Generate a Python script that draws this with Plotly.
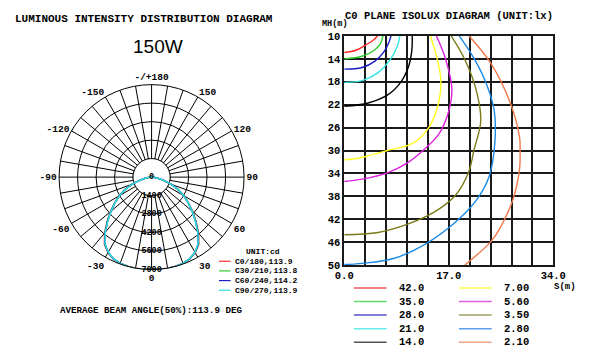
import plotly.graph_objects as go
import numpy as np

MONO = "Liberation Mono, Courier New, monospace"
SANS = "Liberation Sans, Arial, sans-serif"

# ---------------- polar (luminous intensity) data ----------------
polar_angles = [0, 5, 10, 15, 20, 25, 30, 35, 40, 45, 50, 55, 60, 65, 70, 75, 80, 85, 90]
c0_180 = [6980, 7000, 7010, 6990, 6950, 6840, 6600, 6220, 5540, 4760, 4060, 3420, 2830, 2220, 1570, 960, 490, 160, 0]
c30_210 = [6990, 7010, 7015, 6995, 6950, 6830, 6580, 6190, 5500, 4720, 4030, 3400, 2815, 2210, 1560, 955, 485, 160, 0]
c60_240 = [7000, 7015, 7020, 7000, 6950, 6825, 6570, 6170, 5470, 4700, 4010, 3390, 2805, 2205, 1555, 950, 480, 160, 0]
c90_270 = [7000, 7020, 7020, 7000, 6950, 6820, 6560, 6150, 5450, 4680, 4000, 3380, 2800, 2200, 1550, 950, 480, 160, 0]
polar_series = [c0_180, c30_210, c60_240, c90_270]
polar_names = ["C0/180,113.9", "C30/210,113.8", "C60/240,114.2", "C90/270,113.9"]
polar_colors = ["#ff2a2a", "#2ecc2e", "#1c1cc4", "#2ee0e0"]

ring_values = [1400, 2800, 4200, 5600, 7000]
ring_labels = ["0", "1400", "2800", "4200", "5600", "7000"]
ring_label_r = [0, 1400, 2800, 4200, 5600, 7000]
inner_ring = 1400
angle_tick_vals = list(range(0, 360, 10))
angle_tick_text = []
for v in angle_tick_vals:
    if v % 30:
        angle_tick_text.append("")
    elif v == 180:
        angle_tick_text.append("-/+180")
    elif v > 180:
        angle_tick_text.append(str(v - 360))
    else:
        angle_tick_text.append(str(v))

# ---------------- isolux data ----------------
iso_levels = ["42.0", "35.0", "28.0", "21.0", "14.0", "7.00", "5.60", "3.50", "2.80", "2.10"]
iso_colors = ["#ff2a2a", "#2ecc2e", "#1c1cc4", "#33e6e6", "#000000",
              "#ffff22", "#dd22dd", "#7a7a18", "#1a8ae6", "#f07a4a"]
iso_legend_colors = ["#f05a5a", "#66d966", "#5555cc", "#66eeee", "#555555",
                     "#ffff55", "#dd5fdd", "#a0a060", "#5aa0ee", "#f0a585"]
iso_s_42 = [0.0, 1.9, 3.45, 4.75, 5.4]
iso_h_42 = [12.9, 12.5, 11.6, 10.7, 10.0]
iso_s_35 = [0.0, 2.9, 5.0, 5.9, 6.3]
iso_h_35 = [14.0, 13.55, 12.4, 11.3, 10.0]
iso_s_28 = [0.0, 2.9, 5.0, 6.5, 7.3, 7.6]
iso_h_28 = [15.8, 15.5, 14.4, 12.7, 11.0, 10.0]
iso_s_21 = [0.0, 2.9, 5.5, 7.3, 8.6, 9.05]
iso_h_21 = [18.1, 17.8, 16.4, 14.4, 11.9, 10.0]
iso_s_14 = [0.0, 3.9, 7.05, 9.2, 10.5, 11.0, 11.05]
iso_h_14 = [22.3, 21.7, 20.3, 18.05, 15.2, 12.4, 10.0]
iso_s_7 = [14.0, 15.0, 15.7, 15.4, 13.8, 11.2, 7.0, 4.3, 2.0, 0.0]
iso_h_7 = [10.0, 13.5, 17.5, 21.4, 25.9, 28.7, 30.0, 30.8, 31.4, 31.6]
iso_s_56 = [15.0, 16.5, 17.5, 17.0, 15.4, 12.9, 10.2, 7.1, 2.9, 0.0]
iso_h_56 = [10.0, 14.1, 19.2, 23.1, 27.1, 29.9, 32.2, 33.85, 35.0, 35.4]
iso_s_35b = [17.4, 19.6, 21.4, 22.2, 21.1, 20.2, 18.1, 14.4, 10.2, 5.5, 0.0]
iso_h_35b = [10.0, 14.1, 19.2, 24.8, 29.9, 33.85, 37.8, 40.9, 42.9, 44.3, 44.7]
iso_s_28b = [18.7, 21.2, 23.2, 24.4, 24.5, 23.6, 21.7, 18.6, 13.4, 8.15, 2.9, 0.0]
iso_h_28b = [10.0, 14.1, 18.6, 23.1, 28.5, 34.4, 38.35, 42.0, 46.2, 48.8, 49.7, 49.9]
iso_s_21b = [20.3, 23.8, 26.9, 28.5, 28.6, 28.5, 27.5, 25.4, 23.8, 19.6]
iso_h_21b = [10.0, 14.7, 21.4, 27.6, 29.9, 33.3, 38.35, 43.4, 45.95, 50.0]
iso_s = [iso_s_42, iso_s_35, iso_s_28, iso_s_21, iso_s_14, iso_s_7, iso_s_56, iso_s_35b, iso_s_28b, iso_s_21b]
iso_h = [iso_h_42, iso_h_35, iso_h_28, iso_h_21, iso_h_14, iso_h_7, iso_h_56, iso_h_35b, iso_h_28b, iso_h_21b]

s_grid = [round(3.4 * i, 1) for i in range(11)]
s_tick_text = ["0.0" if v == 0 else "17.0" if v == 17.0 else "34.0" if v == 34.0 else "" for v in s_grid]
h_grid = list(range(10, 51, 4))
h_tick_text = [str(v) for v in h_grid]

W, H = 601, 363
fig = go.Figure()

# white inner disc covering the spokes
disc_theta = np.linspace(0, 360, 181)
fig.add_trace(go.Scatterpolar(r=[inner_ring] * len(disc_theta), theta=disc_theta, mode="lines",
                              fill="toself", fillcolor="white", line=dict(color="black", width=1),
                              hoverinfo="skip", showlegend=False))
for vals, name, col in zip(polar_series, polar_names, polar_colors):
    theta = [-a for a in reversed(polar_angles)] + polar_angles[1:]
    r = list(reversed(vals)) + vals[1:]
    fig.add_trace(go.Scatterpolar(r=r, theta=theta, mode="lines", name=name, cliponaxis=False,
                                  line=dict(color=col, width=1.5), showlegend=False))
fig.add_trace(go.Scatterpolar(r=ring_label_r, theta=[0] * len(ring_label_r), mode="text",
                              text=ring_labels, textposition="middle center", cliponaxis=False,
                              textfont=dict(family=MONO, size=8.5, color="black", weight="bold"),
                              showlegend=False, hoverinfo="skip"))

for s, h, lvl, col in zip(iso_s, iso_h, iso_levels, iso_colors):
    fig.add_trace(go.Scatter(x=s, y=h, mode="lines", name=lvl,
                             line=dict(color=col, width=1.4, shape="spline", smoothing=1.0),
                             showlegend=False, xaxis="x", yaxis="y"))

cx, cy, R = 148, 178, 96
fig.update_layout(
    width=W, height=H, margin=dict(l=0, r=0, t=0, b=0, pad=0),
    paper_bgcolor="white", plot_bgcolor="white", showlegend=False,
    polar=dict(
        domain=dict(x=[(cx - R) / W, (cx + R) / W], y=[(H - cy - R) / H, (H - cy + R) / H]),
        bgcolor="white",
        angularaxis=dict(rotation=-90, direction="counterclockwise", tickmode="array",
                         tickvals=angle_tick_vals, ticktext=angle_tick_text, ticks="",
                         showgrid=True, gridcolor="black", gridwidth=1,
                         showline=True, linecolor="black", linewidth=1,
                         tickfont=dict(family=MONO, size=9.5, color="black", weight="bold")),
        radialaxis=dict(range=[0, 7000], tickmode="array", tickvals=ring_values,
                        showticklabels=False, ticks="", showline=False,
                        gridcolor="black", gridwidth=1),
    ),
    xaxis=dict(domain=[348 / W, 565 / W], range=[0, 34], tickmode="array", tickvals=s_grid,
               ticktext=s_tick_text, showgrid=True, gridcolor="#1a1a1a", gridwidth=1.5,
               zeroline=False, showline=True, mirror=True, linecolor="#1a1a1a", linewidth=1.5,
               ticks="", tickfont=dict(family=MONO, size=10.5, color="black", weight="bold"),
               anchor="y"),
    yaxis=dict(domain=[(H - 269) / H, (H - 32) / H], range=[50, 10], tickmode="array",
               tickvals=h_grid, ticktext=h_tick_text, showgrid=True, gridcolor="#1a1a1a",
               gridwidth=1.5, zeroline=False, showline=True, mirror=True,
               linecolor="#1a1a1a", linewidth=1.5, ticks="",
               tickfont=dict(family=MONO, size=10.5, color="black", weight="bold"),
               anchor="x"),
)

ann = []
shapes = []

def txt(x, y, t, size, family=MONO, bold=True, xanchor="center"):
    ann.append(dict(x=x / W, y=1 - y / H, xref="paper", yref="paper", text=t, showarrow=False,
                    xanchor=xanchor, yanchor="middle",
                    font=dict(family=family, size=size, color="black",
                              weight="bold" if bold else "normal")))

txt(140, 14, "LUMINOUS INTENSITY DISTRIBUTION DIAGRAM", 11)
txt(155, 43, "150W", 19, family=SANS, bold=False)
txt(147.5, 316, "AVERAGE BEAM ANGLE(50%):113.9 DEG", 9.2)
txt(263.5, 255, "UNIT:cd", 8)
for i, (name, col) in enumerate(zip(polar_names, polar_colors)):
    y = 265 + 10 * i
    shapes.append(dict(type="line", xref="paper", yref="paper", x0=218 / W, x1=230 / W,
                       y0=1 - y / H, y1=1 - y / H, line=dict(color=col, width=1.2)))
    txt(232, y, name, 8, xanchor="left")

txt(457, 11.5, "C0 PLANE ISOLUX DIAGRAM (UNIT:lx)", 10.5)
txt(338, 19.5, "MH(m)", 8.5)
txt(577, 291.5, "S(m)", 9)
for i, (lvl, col) in enumerate(zip(iso_levels, iso_legend_colors)):
    col_i, row = divmod(i, 5)
    y = 292.7 + 14 * row
    x0 = 358 if col_i == 0 else 467
    shapes.append(dict(type="line", xref="paper", yref="paper", x0=x0 / W, x1=(x0 + 34) / W,
                       y0=1 - y / H, y1=1 - y / H, line=dict(color=col, width=1.5)))
    txt(x0 + 45, y, lvl, 10.5, xanchor="left")

fig.update_layout(annotations=ann, shapes=shapes)
fig.write_html("out.html", config={"displayModeBar": False},
               post_script="document.body.style.margin='0';document.body.style.overflow='hidden';")
